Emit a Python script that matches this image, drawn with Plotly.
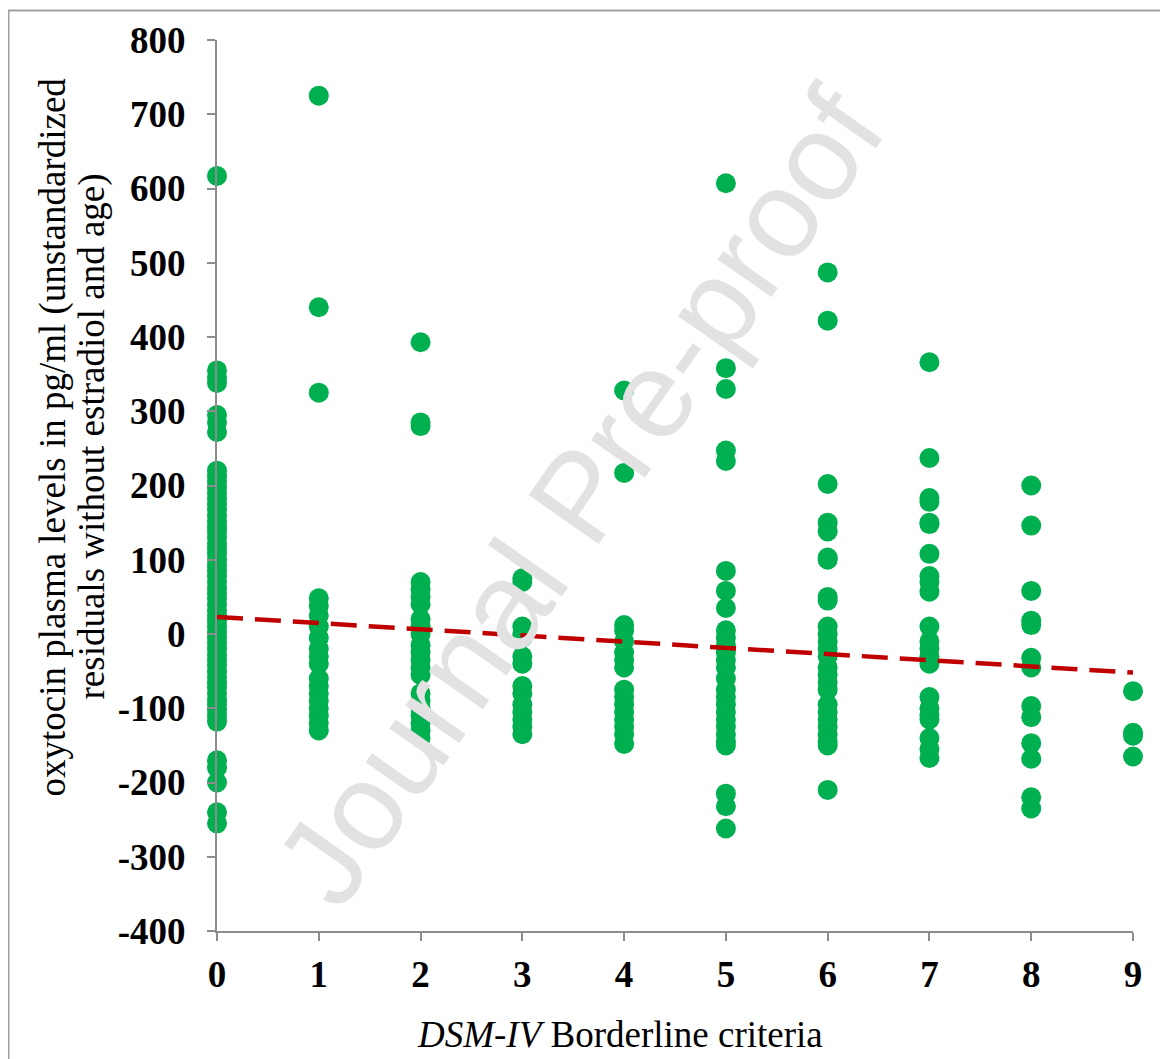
import plotly.graph_objects as go

# Data (DSM-IV criteria count vs oxytocin residuals)
col0 = [617, 355, 345, 338, 295, 285, 272, 220, 212, 205, 198, 190, 182, 175, 168, 160, 152, 145, 138, 130,
        122, 115, 108, 100, 92, 85, 78, 70, 62, 55, 48, 40, 32, 25, 18, 10, 2, -5, -12, -20, -28, -35, -42,
        -50, -58, -65, -72, -80, -88, -95, -102, -110, -118, -170, -180, -200, -240, -255]
col1 = [725, 440, 325, 48, 38, 25, 10, -5, -20, -30, -40, -60, -70, -80, -90, -100, -110, -120, -130]
col2 = [393, 285, 280, 70, 60, 50, 40, 20, 10, 0, -15, -25, -35, -45, -55, -80, -90, -100, -110, -120, -130, -140]
col3 = [75, 70, 10, 0, -5, -30, -40, -70, -80, -95, -105, -115, -125, -135]
col4 = [328, 217, 12, 5, -10, -25, -35, -45, -75, -85, -95, -105, -115, -125, -135, -148]
col5 = [607, 358, 330, 247, 233, 85, 58, 35, 5, -5, -15, -25, -35, -45, -60, -75, -85, -95, -105, -115,
        -125, -135, -145, -150, -215, -232, -262]
col6 = [487, 422, 202, 150, 138, 103, 100, 50, 45, 10, 0, -10, -20, -30, -45, -55, -65, -75, -95, -105,
        -115, -125, -135, -145, -150, -210]
col7 = [366, 237, 183, 178, 150, 148, 108, 78, 70, 57, 10, -10, -20, -30, -40, -85, -100, -110, -115, -140, -155, -167]
col8 = [200, 146, 58, 18, 12, -32, -45, -97, -112, -147, -168, -220, -235]
col9 = [-77, -133, -137, -165]
columns = [col0, col1, col2, col3, col4, col5, col6, col7, col8, col9]

trend_x = [0, 9]
trend_y = [23, -52]

x_ticks = list(range(0, 10))
y_ticks = list(range(-400, 801, 100))

xs, ys = [], []
for k, col in enumerate(columns):
    xs += [k] * len(col)
    ys += col

FONT = "Liberation Serif, Times New Roman, serif"
GRAY = "#8c8c8c"

fig = go.Figure()
fig.add_trace(go.Scatter(x=xs, y=ys, mode="markers",
                         marker=dict(color="#00B050", size=20, line=dict(width=0)),
                         cliponaxis=False, showlegend=False))
fig.add_trace(go.Scatter(x=trend_x, y=trend_y, mode="lines",
                         line=dict(color="#C00000", width=4.5, dash="26px,12px"),
                         cliponaxis=False, showlegend=False))

fig.update_layout(
    width=1160, height=1051,
    margin=dict(l=209, r=35, t=30, b=128),
    paper_bgcolor="white", plot_bgcolor="white",
    font=dict(family=FONT, color="black"),
    xaxis=dict(range=[0, 9], tickvals=x_ticks, ticktext=[f"<b>{v}</b>" for v in x_ticks],
               showgrid=False, zeroline=False, showline=True, linecolor=GRAY, linewidth=2,
               ticks="outside", ticklen=8, tickwidth=2, tickcolor=GRAY,
               tickfont=dict(size=37, family=FONT), ticklabelstandoff=2),
    yaxis=dict(range=[-400, 800], tickvals=y_ticks, ticktext=[f"<b>{v}</b>" for v in y_ticks],
               showgrid=False, zeroline=False, showline=True, linecolor=GRAY, linewidth=2,
               ticks="outside", ticklen=8, tickwidth=2, tickcolor=GRAY,
               tickfont=dict(size=37, family=FONT), ticklabelstandoff=14),
)

# Outer border
fig.add_shape(type="rect", xref="paper", yref="paper", x0=-0.2276, x1=1.036, y0=-0.16, y1=1.033,
              line=dict(color="#a0a0a0", width=2), layer="above")

# Axis titles
fig.add_annotation(xref="paper", yref="paper", x=0.44, y=-0.116, showarrow=False,
                   text="<i>DSM-IV</i> Borderline criteria", font=dict(size=37, family=FONT),
                   xanchor="center", yanchor="middle")
fig.add_annotation(xref="paper", yref="paper", x=-0.178, y=0.555, showarrow=False, textangle=-90,
                   text="oxytocin plasma levels in pg/ml (unstandardized", font=dict(size=37, family=FONT),
                   xanchor="center", yanchor="middle")
fig.add_annotation(xref="paper", yref="paper", x=-0.1354, y=0.555, showarrow=False, textangle=-90,
                   text="residuals without estradiol and age)", font=dict(size=37, family=FONT),
                   xanchor="center", yanchor="middle")

# Watermark
fig.add_annotation(xref="paper", yref="paper", x=0.396, y=0.488, showarrow=False, textangle=-55,
                   text="Journal Pre-proof", font=dict(size=124, family="Liberation Sans, Arial", color="#e2e2e2"),
                   xanchor="center", yanchor="middle")

fig.write_html("out.html")
